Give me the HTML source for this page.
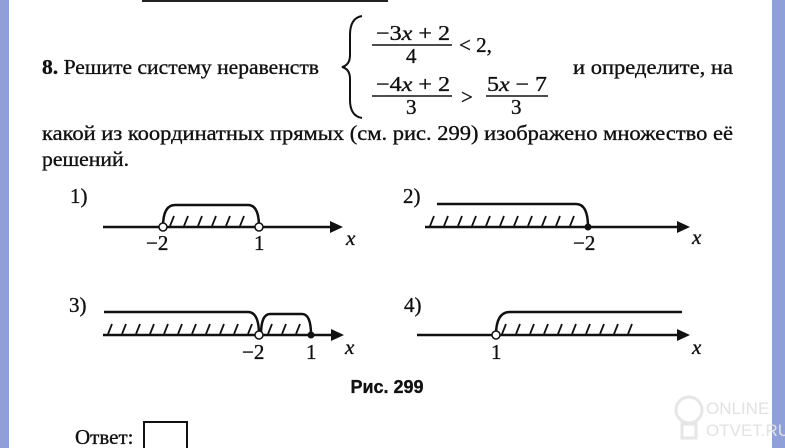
<!DOCTYPE html>
<html><head><meta charset="utf-8"><style>
html,body{margin:0;padding:0;background:#fff;}
svg{display:block;}
text{font-family:"Liberation Serif",serif;fill:#111;stroke:#111;stroke-width:0.35;}
</style></head><body>
<svg width="785" height="448" viewBox="0 0 785 448" xmlns="http://www.w3.org/2000/svg">
<rect x="0" y="0" width="785" height="448" fill="#fff"/>
<rect x="0" y="0" width="9" height="448" fill="#8e9fd9"/>
<rect x="772" y="0" width="13" height="448" fill="#8e9fd9"/>
<line x1="142" y1="1" x2="388" y2="1" stroke="#222" stroke-width="2"/>

<text x="42" y="74" font-size="21" textLength="277" lengthAdjust="spacingAndGlyphs"><tspan font-weight="bold">8.</tspan> Решите систему неравенств</text>
<path d="M362 16 Q350 18 350 35 L350 55 Q350 65 342 67 Q350 69 350 79 L350 100 Q350 116 362 118" fill="none" stroke="#111" stroke-width="2"/>
<text x="376" y="40" font-size="21" textLength="74" lengthAdjust="spacingAndGlyphs">−3<tspan font-style="italic">x</tspan> + 2</text>
<line x1="372" y1="45" x2="452" y2="45" stroke="#111" stroke-width="1.5"/>
<text x="406" y="63" font-size="21">4</text>
<text x="459" y="52" font-size="21">&lt; 2,</text>
<text x="376" y="91" font-size="21" textLength="74" lengthAdjust="spacingAndGlyphs">−4<tspan font-style="italic">x</tspan> + 2</text>
<line x1="372" y1="96" x2="452" y2="96" stroke="#111" stroke-width="1.5"/>
<text x="406" y="114" font-size="21">3</text>
<text x="461" y="104" font-size="21">&gt;</text>
<text x="487" y="91" font-size="21" textLength="60" lengthAdjust="spacingAndGlyphs">5<tspan font-style="italic">x</tspan> − 7</text>
<line x1="486" y1="96" x2="548" y2="96" stroke="#111" stroke-width="1.5"/>
<text x="511" y="114" font-size="21">3</text>
<text x="573" y="74" font-size="21" textLength="160" lengthAdjust="spacingAndGlyphs">и определите, на</text>
<text x="42" y="140" font-size="21" textLength="691" lengthAdjust="spacingAndGlyphs">какой из координатных прямых (см. рис. 299) изображено множество её</text>
<text x="42" y="166" font-size="21" textLength="87" lengthAdjust="spacingAndGlyphs">решений.</text>

<g stroke="#111" fill="none" stroke-width="2.5">
<line x1="103" y1="227" x2="334" y2="227"/>
<path d="M163 227 Q163 205 175 205 L248 205 Q259 205 259 227"/>
<line x1="425" y1="227" x2="682" y2="227"/>
<path d="M437 204 L576 204 Q588 204 588 227"/>
<line x1="103" y1="335" x2="336" y2="335"/>
<path d="M104 312 L248 312 Q259 312 259 335"/>
<path d="M261 335 Q261 314 270 314 L302 314 Q311 314 311 335"/>
<line x1="417" y1="335" x2="682" y2="335"/>
<path d="M496 335 Q496 312 510 312 L682 312"/>
</g>
<g stroke="#111" stroke-width="1.8">
<path d="M170 226 l4 -10 M184 226 l4 -10 M198 226 l4 -10 M212 226 l4 -10 M226 226 l4 -10 M240 226 l4 -10"/>
<path d="M430 226 l4 -10 M444 226 l4 -10 M458 226 l4 -10 M472 226 l4 -10 M486 226 l4 -10 M500 226 l4 -10 M514 226 l4 -10 M528 226 l4 -10 M542 226 l4 -10 M556 226 l4 -10 M570 226 l4 -10"/>
<path d="M108 334 l4 -10 M122 334 l4 -10 M136 334 l4 -10 M150 334 l4 -10 M164 334 l4 -10 M178 334 l4 -10 M192 334 l4 -10 M206 334 l4 -10 M220 334 l4 -10 M234 334 l4 -10 M248 334 l4 -10 M268 334 l4 -10 M282 334 l4 -10 M296 334 l4 -10"/>
<path d="M502 334 l4 -10 M516 334 l4 -10 M530 334 l4 -10 M544 334 l4 -10 M558 334 l4 -10 M572 334 l4 -10 M586 334 l4 -10 M600 334 l4 -10 M614 334 l4 -10 M628 334 l4 -10"/>
</g>
<g fill="#111">
<polygon points="343,227 330,221 330,233"/>
<polygon points="690,227 677,221 677,233"/>
<polygon points="344,335 331,329 331,341"/>
<polygon points="690,335 677,329 677,341"/>
<circle cx="588" cy="227" r="3.5"/>
<circle cx="311" cy="335" r="3.5"/>
</g>
<g fill="#fff" stroke="#111" stroke-width="1.5">
<circle cx="163" cy="227" r="4"/>
<circle cx="259" cy="227" r="4"/>
<circle cx="259" cy="335" r="4"/>
<circle cx="496" cy="335" r="4"/>
</g>
<g font-size="21">
<text x="70" y="203">1)</text>
<text x="403" y="203">2)</text>
<text x="69" y="312">3)</text>
<text x="404" y="312">4)</text>
<text x="146" y="250">−2</text>
<text x="254" y="250">1</text>
<text x="573" y="250">−2</text>
<text x="242" y="359">−2</text>
<text x="306" y="359">1</text>
<text x="491" y="359">1</text>
<text x="346" y="245" font-style="italic">x</text>
<text x="692" y="244" font-style="italic">x</text>
<text x="345" y="354" font-style="italic">x</text>
<text x="692" y="354" font-style="italic">x</text>
</g>
<text x="387" y="393" font-size="18" font-weight="bold" text-anchor="middle" style="font-family:'Liberation Sans',sans-serif">Рис. 299</text>
<text x="75" y="444" font-size="21">Ответ:</text>
<rect x="144" y="422" width="43" height="30" fill="none" stroke="#111" stroke-width="2"/>
<text x="706" y="414" font-size="17" style="font-family:'Liberation Sans',sans-serif;fill:#e2e2e2;stroke:none">ONLINE</text>
<text x="706" y="436" font-size="17" style="font-family:'Liberation Sans',sans-serif;fill:#e2e2e2;stroke:none">OTVET.RU</text>
<circle cx="689" cy="410" r="13" fill="none" stroke="#e6e6e6" stroke-width="3"/>
<rect x="682" y="424" width="14" height="14" fill="none" stroke="#e6e6e6" stroke-width="3"/>
</svg>
</body></html>
